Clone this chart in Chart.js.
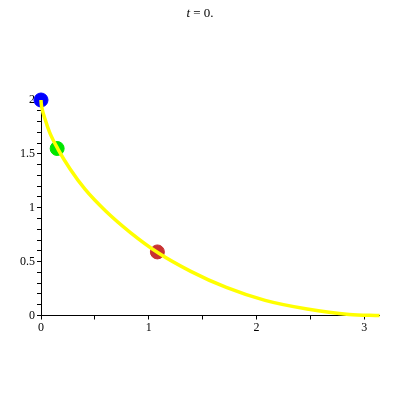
<!DOCTYPE html>
<html>
<head>
<meta charset="utf-8">
<script src="https://cdn.jsdelivr.net/npm/chart.js@4/dist/chart.umd.min.js"></script>
<style>
  html, body { margin: 0; padding: 0; background: #fff; }
  #wrap { position: relative; width: 400px; height: 400px; }
  #titulo {
    position: absolute; left: 0; top: 5px; width: 400px; text-align: center;
    font-family: "Liberation Serif", serif; font-size: 13px; color: #000;
  }
</style>
</head>
<body>
<div id="wrap">
  <div id="titulo"><i>t</i> = 0.</div>
  <canvas id="grafica" width="400" height="400"></canvas>
</div>
<script>
const curvaX = [0, 0.001, 0.01, 0.035, 0.08, 0.16, 0.27, 0.41, 0.6, 0.83, 1.09, 1.39, 1.72, 2.08, 2.47, 2.86, 3.1416];
const curvaY = [2, 1.98, 1.92, 1.83, 1.70, 1.54, 1.36, 1.17, 0.97, 0.77, 0.58, 0.41, 0.26, 0.14, 0.06, 0.01, 0];

// las tres bolitas
const bolasX = [0, 0.15, 1.08];
const bolasY = [2, 1.55, 0.59];
const bolasColor = ["rgb(0,0,255)", "rgb(0,230,0)", "rgb(200,50,50)"];

const xTicks = [0, 1, 2, 3];
const yTicks = [0, 0.5, 1, 1.5, 2];

const fuente = { family: "Liberation Serif", size: 12 };

const ctx = document.getElementById("grafica").getContext("2d");

new Chart(ctx, {
  type: "scatter",
  data: {
    datasets: [
      // la curva va primero para que se pinte encima de las bolas
      {
        type: "line",
        data: curvaX.map((x, i) => ({ x: x, y: curvaY[i] })),
        borderColor: "#ffff00",
        borderWidth: 3.5,
        pointRadius: 0,
        cubicInterpolationMode: "monotone",
        fill: false,
        clip: false
      },
      ...bolasX.map((x, i) => ({
        data: [{ x: x, y: bolasY[i] }],
        backgroundColor: bolasColor[i],
        borderColor: bolasColor[i],
        pointRadius: 7,
        pointHoverRadius: 7,
        clip: false
      }))
    ]
  },
  options: {
    responsive: false,
    animation: false,
    layout: { padding: { top: 100, right: 20.5, left: 0, bottom: 0 } },
    plugins: { legend: { display: false }, tooltip: { enabled: false } },
    scales: {
      x: {
        type: "linear",
        min: 0,
        max: 3.1416,
        afterFit: (s) => { s.height = 84.5; },
        afterBuildTicks: (s) => {
          s.ticks = [0, 0.5, 1, 1.5, 2, 2.5, 3].map((v) => ({ value: v }));
        },
        ticks: {
          color: "#000",
          font: fuente,
          padding: 1,
          maxRotation: 0,
          autoSkip: false,
          callback: (v) => (xTicks.includes(v) ? String(v) : "")
        },
        grid: { drawOnChartArea: false, drawTicks: true, tickLength: 4, color: "#000" },
        border: { display: true, color: "#000", width: 1 }
      },
      y: {
        type: "linear",
        min: 0,
        max: 2,
        afterFit: (s) => { s.width = 41; },
        afterBuildTicks: (s) => {
          const t = [];
          for (let i = 0; i <= 20; i++) t.push({ value: i / 10 });
          s.ticks = t;
        },
        ticks: {
          color: "#000",
          font: fuente,
          padding: 2,
          autoSkip: false,
          callback: (v) => (yTicks.includes(v) ? String(v) : "")
        },
        grid: { drawOnChartArea: false, drawTicks: true, tickLength: 4, color: "#000" },
        border: { display: true, color: "#000", width: 1 }
      }
    }
  }
});
</script>
</body>
</html>
